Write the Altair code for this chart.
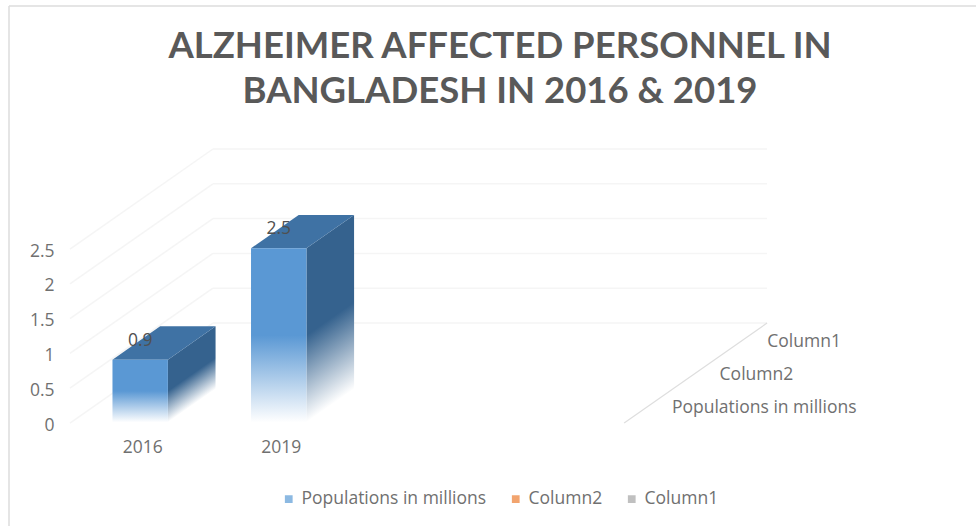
import json
import altair as alt
import pandas as pd

# Chart values
years = ["2016", "2019"]
populations = [0.9, 2.5]
series_names = ["Populations in millions", "Column2", "Column1"]
series_colors = ["#5b9bd5", "#ed7d31", "#a5a5a5"]
grid_values = [0, 0.5, 1, 1.5, 2, 2.5]
title_lines = ["ALZHEIMER AFFECTED PERSONNEL IN", "BANGLADESH IN 2016 & 2019"]

# Oblique projection of the 3D column chart.
# One category slot is one unit on x; one series row of depth shifts x and y.
CATEGORY_SLOTS = 4
DEPTH_ROWS = 3
DEPTH_DX = 0.344   # category units per depth row
DEPTH_DY = 0.479   # value units per depth row
BAR_HALF = 0.2
BAR_FRONT = 0.02
BAR_BACK = 1.02

X_DOMAIN = [-0.505, 6.54]
Y_DOMAIN = [-0.675, 4.21]

FONT = "Open Sans"
TEXT_COLOR = "#707070"
LABEL_SIZE = 17.5

x_enc = alt.X(
    "x:Q",
    scale=alt.Scale(domain=X_DOMAIN, nice=False, zero=False),
    title=None,
    axis=alt.Axis(
        values=[i + 0.5 for i in range(len(years))],
        labelExpr=f"{json.dumps(years)}[floor(datum.value)]",
        domain=False,
        ticks=False,
        grid=False,
        offset=-32,
        labelPadding=0,
        labelOffset=3,
        labelFont=FONT,
        labelFontSize=LABEL_SIZE,
        labelColor=TEXT_COLOR,
    ),
)
y_enc = alt.Y(
    "y:Q",
    scale=alt.Scale(domain=Y_DOMAIN, nice=False, zero=False),
    title=None,
    axis=alt.Axis(
        values=grid_values,
        format=".1~f",
        domain=False,
        ticks=False,
        grid=False,
        offset=-54,
        labelPadding=0,
        labelOffset=2,
        labelFont=FONT,
        labelFontSize=LABEL_SIZE,
        labelColor=TEXT_COLOR,
    ),
)


def px(cat, depth):
    return cat + depth * DEPTH_DX


def py(val, depth):
    return val + depth * DEPTH_DY


# Wall grid
grid_rows = []
for v in grid_values:
    grid_rows.append({"line": f"left{v}", "o": 0, "x": px(0, 0), "y": py(v, 0)})
    grid_rows.append({"line": f"left{v}", "o": 1, "x": px(0, DEPTH_ROWS), "y": py(v, DEPTH_ROWS)})
    grid_rows.append({"line": f"back{v}", "o": 0, "x": px(0, DEPTH_ROWS), "y": py(v, DEPTH_ROWS)})
    grid_rows.append({"line": f"back{v}", "o": 1, "x": px(CATEGORY_SLOTS, DEPTH_ROWS), "y": py(v, DEPTH_ROWS)})
grid = alt.Chart(pd.DataFrame(grid_rows)).mark_line(color="#f5f5f5", strokeWidth=1.5).encode(
    x=x_enc, y=y_enc, detail="line:N", order="o:Q"
)

# Floor edge running back from the front-right corner
floor_df = pd.DataFrame([
    {"x": px(CATEGORY_SLOTS, d), "y": py(0, d), "o": d} for d in (0, DEPTH_ROWS)
])
floor = alt.Chart(floor_df).mark_line(color="#dedede", strokeWidth=1.2).encode(
    x=x_enc, y=y_enc, order="o:Q"
)

# Series names along the floor edge
depth_df = pd.DataFrame([
    {"name": n, "x": px(CATEGORY_SLOTS, i + 0.5), "y": py(0, i + 0.5)}
    for i, n in enumerate(series_names)
])
depth_labels = alt.Chart(depth_df).mark_text(
    align="left", baseline="middle", dx=24, dy=2, font=FONT, fontSize=LABEL_SIZE, color=TEXT_COLOR, limit=300
).encode(x=x_enc, y=y_enc, text="name:N")


def fade(color, x1=0.0, y1=0.0, x2=0.0, y2=1.0):
    return alt.LinearGradient(
        gradient="linear",
        x1=x1,
        y1=y1,
        x2=x2,
        y2=y2,
        stops=[
            alt.GradientStop(offset=0, color=color),
            alt.GradientStop(offset=0.5, color=color),
            alt.GradientStop(offset=1, color="#ffffff"),
        ],
    )


# Column faces
front_rows, top_rows, label_rows = [], [], []
side_layers = []
for i, (yr, val) in enumerate(zip(years, populations)):
    c = i + 0.5
    front_rows.append({
        "year": yr,
        "x": px(c - BAR_HALF, BAR_FRONT),
        "x2": px(c + BAR_HALF, BAR_FRONT),
        "y": py(val, BAR_FRONT),
        "y2": py(0, BAR_FRONT),
    })
    side_rows = []
    for d in (BAR_FRONT, BAR_BACK):
        side_rows.append({"x": px(c + BAR_HALF, d), "y": py(val, d), "y2": py(0, d)})
        top_rows.append({
            "year": yr,
            "x": px(c - BAR_HALF, d),
            "x2": px(c + BAR_HALF, d),
            "y": py(val, d),
        })
    # The side fade runs square to the sloping floor edge of each column
    k = DEPTH_DY / (val + DEPTH_DY)
    s = (1 - k) / (1 + k * k)
    side_layers.append(
        alt.Chart(pd.DataFrame(side_rows)).mark_area(
            orient="vertical", fill=fade("#35628e", 0.0, k, k * s, k + s)
        ).encode(x=x_enc, y=y_enc, y2="y2:Q")
    )
    label_rows.append({"x": px(c, BAR_FRONT), "y": py(val, 0.5), "text": f"{val}"})

front = alt.Chart(pd.DataFrame(front_rows)).mark_rect(fill=fade("#5a98d4")).encode(
    x=x_enc, x2="x2:Q", y=y_enc, y2="y2:Q"
)

top = alt.Chart(pd.DataFrame(top_rows)).mark_area(orient="horizontal", color="#3f72a4").encode(
    x=x_enc, x2="x2:Q", y=y_enc, detail="year:N"
)

value_labels = alt.Chart(pd.DataFrame(label_rows)).mark_text(
    font=FONT, fontSize=LABEL_SIZE, color="#505050", baseline="middle", dy=-3
).encode(x=x_enc, y=y_enc, text="text:N")

# Zero-sized points that carry the series legend
legend_df = pd.DataFrame({"series": series_names, "x": [0] * 3, "y": [0] * 3})
legend_layer = alt.Chart(legend_df).mark_square(size=0).encode(
    x=x_enc,
    y=y_enc,
    color=alt.Color(
        "series:N",
        scale=alt.Scale(domain=series_names, range=series_colors),
        legend=alt.Legend(
            title=None,
            orient="none",
            direction="horizontal",
            columns=3,
            legendX=280,
            legendY=360,
            gridAlign="each",
            columnPadding=20,
            symbolType="square",
            symbolSize=60,
            labelFont=FONT,
            labelFontSize=LABEL_SIZE,
            labelColor=TEXT_COLOR,
            labelLimit=400,
        ),
    ),
)

# Thin frame around the chart area
frame_left = alt.Chart(pd.DataFrame({"a": [0]})).mark_rule(color="#dcdcdc", strokeWidth=1.5).encode(
    x=alt.value(9), y=alt.value(-124), y2=alt.value(396)
)
frame_top = alt.Chart(pd.DataFrame({"a": [0]})).mark_rule(color="#dcdcdc", strokeWidth=1.5).encode(
    x=alt.value(9), x2=alt.value(976), y=alt.value(-124)
)

chart = alt.layer(
    grid, floor, depth_labels, *side_layers, top, front, value_labels, legend_layer, frame_left, frame_top
).properties(
    width=976,
    height=340,
    padding={"left": 0, "right": 0, "top": 130, "bottom": 56},
    autosize=alt.AutoSizeParams(type="none"),
    background="#ffffff",
    title=alt.TitleParams(
        text=title_lines,
        font="Lato",
        fontSize=36.5,
        fontWeight="bold",
        color="#595959",
        lineHeight=45,
        anchor="middle",
        dx=12,
        offset=-105,
    ),
).configure_view(stroke=None)

chart.save("out.html", embed_options={"renderer": "svg", "actions": False})
